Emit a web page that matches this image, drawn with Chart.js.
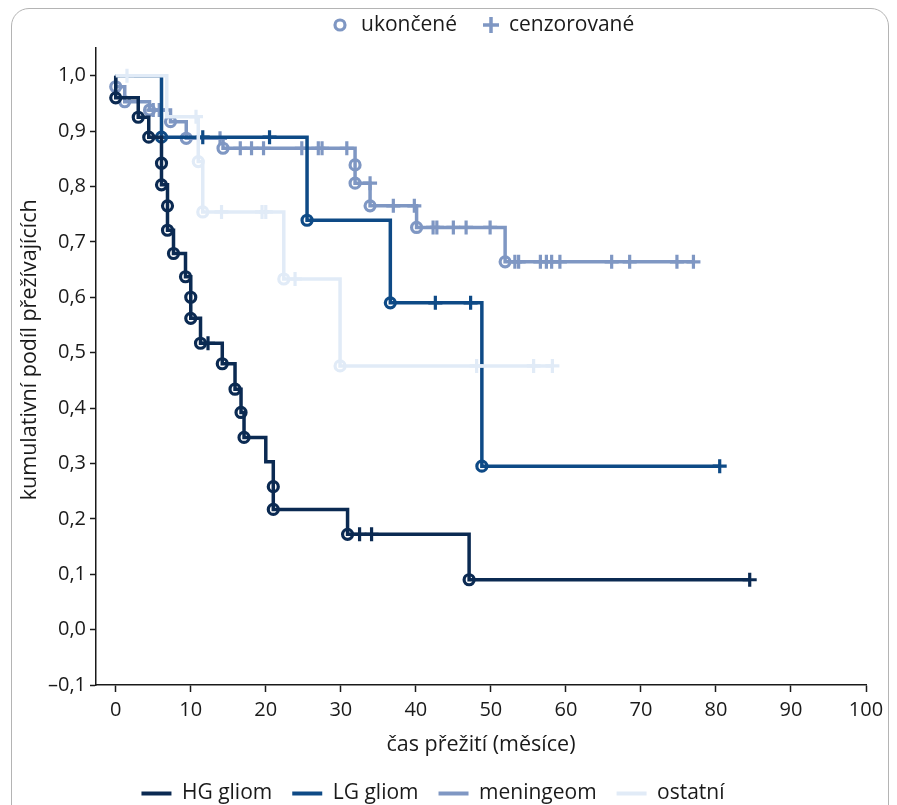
<!DOCTYPE html>
<html><head><meta charset="utf-8">
<script src="https://cdn.jsdelivr.net/npm/chart.js@4.4.1/dist/chart.umd.min.js"></script>
<style>
html,body{margin:0;padding:0;background:#fff;overflow:hidden;width:897px;height:805px;}
#frame{position:absolute;left:11px;top:8px;width:878px;height:860px;border:1.5px solid #b4b4b4;border-radius:18px;box-sizing:border-box;}
#wrap{position:absolute;left:0;top:0;width:897px;height:814px;}
</style></head><body>
<div id="frame"></div>
<div id="wrap"><canvas id="c" width="897" height="814"></canvas></div>
<script>
// ---- data ----
const seriesNames = ['HG gliom', 'LG gliom', 'meningeom', 'ostatní'];
const markerLegend = ['ukončené', 'cenzorované'];
const xTitle = 'čas přežití (měsíce)';
const yTitle = 'kumulativní podíl přežívajících';
const xTicks = [0, 10, 20, 30, 40, 50, 60, 70, 80, 90, 100];
const yTicks = [-0.1, 0, 0.1, 0.2, 0.3, 0.4, 0.5, 0.6, 0.7, 0.8, 0.9, 1.0];
const yTickLabels = ['–0,1', '0,0', '0,1', '0,2', '0,3', '0,4', '0,5', '0,6', '0,7', '0,8', '0,9', '1,0'];

// kind: s = start, e = event (ukončené), c = censored (cenzorované), d = drop without visible marker
const hgTime = [0, 0, 3.0, 4.4, 6.1, 6.1, 6.9, 6.9, 7.7, 9.3, 10.0, 10.0, 11.3, 12.3, 14.2, 15.9, 16.7, 17.1, 20.0, 21.0, 21.0, 30.9, 32.5, 34.1, 47.1, 84.5];
const hgSurv = [1.0, 0.960, 0.925, 0.889, 0.842, 0.803, 0.765, 0.721, 0.679, 0.637, 0.600, 0.562, 0.517, 0.517, 0.480, 0.434, 0.392, 0.347, 0.303, 0.258, 0.217, 0.172, 0.172, 0.172, 0.090, 0.090];
const hgKind = ['s','e','e','e','e','e','e','e','e','e','e','e','e','c','e','e','e','e','d','e','e','e','c','c','e','c'];

const lgTime = [0, 6.1, 11.6, 20.5, 25.5, 36.6, 42.6, 47.3, 48.8, 80.5];
const lgSurv = [1.0, 0.889, 0.889, 0.889, 0.739, 0.590, 0.590, 0.590, 0.295, 0.295];
const lgKind = ['s','e','c','c','e','e','c','c','e','c'];

const menTime = [0, 0, 1.2, 4.5, 5.0, 5.8, 7.3, 9.4, 13.9, 14.3, 16.6, 18.1, 19.7, 24.8, 27.0, 27.5, 30.8, 31.9, 31.9, 33.9, 33.9, 37.0, 39.8, 40.1, 42.3, 42.8, 45.0, 46.7, 49.9, 51.9, 53.2, 53.7, 56.6, 57.4, 58.1, 59.2, 66.1, 68.5, 74.8, 77.0];
const menSurv = [1.0, 0.980, 0.953, 0.938, 0.938, 0.938, 0.917, 0.887, 0.887, 0.869, 0.869, 0.869, 0.869, 0.869, 0.869, 0.869, 0.869, 0.839, 0.806, 0.806, 0.765, 0.765, 0.765, 0.726, 0.726, 0.726, 0.726, 0.726, 0.726, 0.664, 0.664, 0.664, 0.664, 0.664, 0.664, 0.664, 0.664, 0.664, 0.664, 0.664];
const menKind = ['s','e','e','e','c','c','e','e','c','e','c','c','c','c','c','c','c','e','e','c','e','c','c','e','c','c','c','c','c','e','c','c','c','c','c','c','c','c','c','c'];

const ostTime = [0, 1.5, 6.8, 10.7, 11.0, 11.6, 14.1, 19.5, 20.0, 22.4, 23.9, 29.9, 48.1, 55.7, 58.2];
const ostSurv = [1.0, 1.0, 0.926, 0.926, 0.845, 0.754, 0.754, 0.754, 0.754, 0.633, 0.633, 0.476, 0.476, 0.476, 0.476];
const ostKind = ['s','c','d','c','e','e','c','c','c','e','c','e','c','c','c'];

// ---- styles ----
const colors = ['#0b2a52', '#0e4a86', '#7f97c3', '#e1ebf7'];
const drawOrder = [1, 2, 3, 0]; // lower = on top
const FONT = '"Open Sans", "Noto Sans", sans-serif';
const TXT = '#1a1a1a';

function makeDataset(label, time, surv, kind, color, order) {
  const rad = (c) => kind[c.dataIndex] === 'e' ? 5 : (kind[c.dataIndex] === 'c' ? 7 : 0);
  return {
    label, order,
    data: time.map((t, i) => ({x: t, y: surv[i]})),
    borderColor: color, backgroundColor: color,
    borderWidth: 3.5, stepped: 'before', fill: false, tension: 0,
    pointStyle: (c) => kind[c.dataIndex] === 'c' ? 'cross' : 'circle',
    pointRadius: rad, pointHoverRadius: rad,
    pointBorderWidth: 3.2, pointHoverBorderWidth: 3.2,
    pointBorderColor: color,
    pointBackgroundColor: 'rgba(255,255,255,0)'
  };
}

const datasets = [
  makeDataset(seriesNames[0], hgTime, hgSurv, hgKind, colors[0], drawOrder[0]),
  makeDataset(seriesNames[1], lgTime, lgSurv, lgKind, colors[1], drawOrder[1]),
  makeDataset(seriesNames[2], menTime, menSurv, menKind, colors[2], drawOrder[2]),
  makeDataset(seriesNames[3], ostTime, ostSurv, ostKind, colors[3], drawOrder[3])
];

const topLegend = {
  id: 'topLegend',
  afterDraw(chart) {
    const ctx = chart.ctx;
    ctx.save();
    ctx.strokeStyle = colors[2];
    ctx.lineWidth = 3.2;
    ctx.beginPath(); ctx.arc(340, 25, 5, 0, Math.PI * 2); ctx.stroke();
    ctx.lineWidth = 3.5;
    ctx.beginPath(); ctx.moveTo(483, 25); ctx.lineTo(499, 25); ctx.moveTo(491, 17); ctx.lineTo(491, 33); ctx.stroke();
    ctx.fillStyle = TXT;
    ctx.font = '21px ' + FONT;
    ctx.textBaseline = 'middle';
    ctx.fillText(markerLegend[0], 361, 25);
    ctx.fillText(markerLegend[1], 509, 25);
    ctx.restore();
  }
};

new Chart(document.getElementById('c'), {
  type: 'line',
  data: { datasets },
  plugins: [topLegend],
  options: {
    responsive: false,
    animation: false,
    events: [],
    layout: { padding: { top: 48, right: 31, left: 0, bottom: 0 } },
    plugins: {
      tooltip: { enabled: false },
      legend: {
        position: 'bottom',
        labels: {
          usePointStyle: true,
          pointStyleWidth: 30,
          padding: 20,
          color: TXT,
          font: { family: FONT, size: 21 },
          sort: (a, b) => a.datasetIndex - b.datasetIndex,
          generateLabels: (chart) => chart.data.datasets.map((ds, i) => ({
            text: ds.label, fillStyle: ds.borderColor, strokeStyle: ds.borderColor,
            lineWidth: 4, pointStyle: 'line', hidden: false, datasetIndex: i, fontColor: TXT
          }))
        }
      }
    },
    scales: {
      x: {
        type: 'linear', min: -2.63, max: 100,
        afterBuildTicks: (s) => { s.ticks = xTicks.map(v => ({value: v})); },
        afterFit: (s) => { s.height = 78; },
        ticks: { color: TXT, font: { family: FONT, size: 20 }, padding: 6, maxRotation: 0, autoSkip: false,
                 callback: (v) => String(v) },
        grid: { display: true, drawOnChartArea: false, drawTicks: true, tickLength: 7, tickWidth: 1.5, tickColor: TXT },
        border: { display: true, color: TXT, width: 1.5 },
        title: { display: true, text: xTitle, color: TXT, font: { family: FONT, size: 21.5 }, padding: { top: 0, bottom: 5 } }
      },
      y: {
        type: 'linear', min: -0.1, max: 1.05,
        afterBuildTicks: (s) => { s.ticks = yTicks.map(v => ({value: v})); },
        afterFit: (s) => { s.width = 96; },
        ticks: { color: TXT, font: { family: FONT, size: 20 }, padding: 4, autoSkip: false,
                 callback: (v) => { const i = yTicks.findIndex(t => Math.abs(t - v) < 1e-6); return i >= 0 ? yTickLabels[i] : ''; } },
        grid: { display: true, drawOnChartArea: false, drawTicks: true, tickLength: 6, tickWidth: 1.5, tickColor: TXT },
        border: { display: true, color: TXT, width: 1.5 },
        title: { display: true, text: '      ' + yTitle, color: TXT, font: { family: FONT, size: 21.5 }, padding: { top: 17, bottom: 0 } }
      }
    }
  }
});
</script>
</body></html>
